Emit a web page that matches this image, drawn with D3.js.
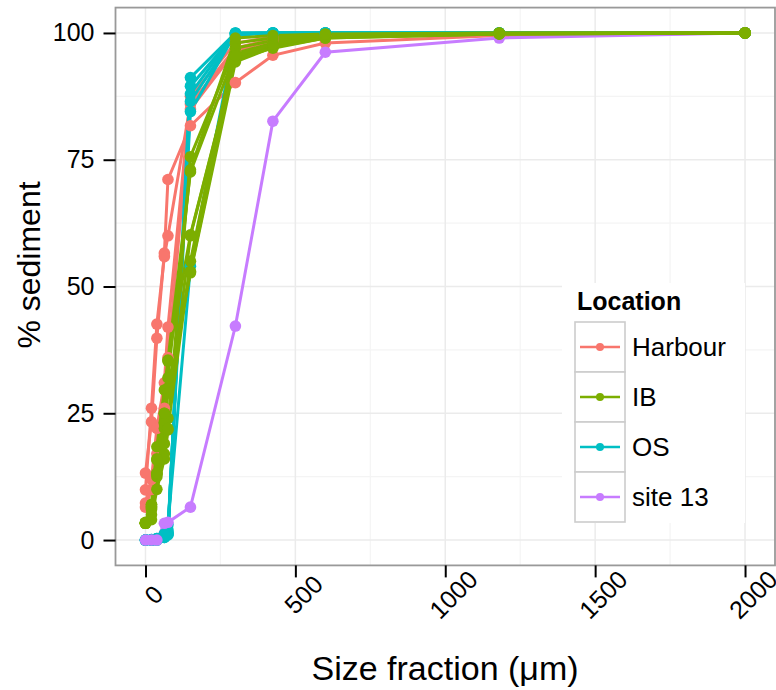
<!DOCTYPE html>
<html>
<head>
<meta charset="utf-8">
<script src="https://cdnjs.cloudflare.com/ajax/libs/d3/7.8.5/d3.min.js"></script>
<style>
  body { margin: 0; background: #fff; }
  text { font-family: "Liberation Sans", Arial, sans-serif; }
</style>
</head>
<body>
<div id="chart"></div>
<script>
// Sieve sizes (um) shared by all samples
var sizes = [0, 20, 38, 63, 75, 150, 300, 425, 600, 1180, 2000];

// Cumulative % sediment, one array per sample
var harbour = [
  [13.2, 23.3, 39.8, 56.6, 71.1, 81.7, 90.2, 95.6, 98.0, 99.5, 100],
  [9.9, 26.0, 42.6, 55.9, 60.0, 86.0, 97.0, 98.8, 99.5, 99.8, 100],
  [7.3, 12.0, 22.0, 31.0, 42.0, 87.5, 98.0, 99.2, 99.6, 99.9, 100],
  [6.5, 10.0, 17.0, 26.0, 36.0, 85.0, 96.5, 98.5, 99.3, 99.8, 100]
];
var ib = [
  [3.3, 6.3, 13.0, 22.0, 30.0, 52.7, 94.3, 97.2, 99.0, 99.8, 100],
  [3.3, 6.5, 15.8, 25.0, 35.3, 60.2, 95.0, 97.5, 99.2, 99.8, 100],
  [3.5, 7.0, 18.4, 29.6, 35.5, 72.6, 96.0, 98.0, 99.4, 99.9, 100],
  [3.3, 5.0, 12.5, 17.0, 21.7, 75.6, 97.0, 98.5, 99.5, 99.9, 100],
  [3.3, 6.0, 13.0, 19.0, 24.0, 60.0, 94.8, 97.0, 99.0, 99.8, 100],
  [3.4, 6.6, 13.2, 23.0, 29.0, 53.0, 95.5, 97.8, 99.3, 99.9, 100],
  [3.3, 4.0, 10.0, 16.0, 22.0, 55.0, 98.0, 99.0, 99.6, 100, 100],
  [3.3, 7.0, 16.0, 25.0, 32.0, 73.0, 99.0, 99.5, 99.8, 100, 100]
];
var os = [
  [0, 0, 0, 0.5, 1.0, 91.2, 100, 100, 100, 100, 100],
  [0, 0, 0, 0.5, 1.2, 89.5, 99.9, 100, 100, 100, 100],
  [0, 0, 0.2, 0.8, 1.5, 88.0, 100, 100, 100, 100, 100],
  [0, 0.1, 0.3, 1.0, 2.0, 86.5, 99.8, 100, 100, 100, 100],
  [0, 0, 0.2, 0.8, 1.3, 84.5, 99.9, 100, 100, 100, 100],
  [0, 0.1, 0.3, 1.2, 3.0, 54.0, 99.5, 100, 100, 100, 100]
];
var site13 = [
  [0, 0, 0, 3.3, 3.5, 6.5, 42.2, 82.6, 96.2, 99.0, 100]
];

var locations = ["Harbour", "IB", "OS", "site 13"];
var locationColors = ["#F8766D", "#7CAE00", "#00BFC4", "#C77CFF"];
var xTicks = [0, 500, 1000, 1500, 2000];
var yTicks = [0, 25, 50, 75, 100];

// Define SVG area dimensions
var svgWidth = 776;
var svgHeight = 690;

var chartMargin = { top: 7.6, right: 1, bottom: 124.6, left: 115.5 };
var chartWidth = svgWidth - chartMargin.left - chartMargin.right;
var chartHeight = svgHeight - chartMargin.top - chartMargin.bottom;

var svg = d3.select("#chart")
  .append("svg")
  .attr("width", svgWidth)
  .attr("height", svgHeight);

var chartGroup = svg.append("g")
  .attr("transform", `translate(${chartMargin.left}, ${chartMargin.top})`);

var xScale = d3.scaleLinear().domain([-100, 2100]).range([0, chartWidth]);
var yScale = d3.scaleLinear().domain([-5, 105]).range([chartHeight, 0]);
var colorScale = d3.scaleOrdinal().domain(locations).range(locationColors);

// gridlines (minor then major)
var xMinor = [250, 750, 1250, 1750];
var yMinor = [12.5, 37.5, 62.5, 87.5];
chartGroup.selectAll(".xminor").data(xMinor).enter().append("line")
  .attr("x1", d => xScale(d)).attr("x2", d => xScale(d))
  .attr("y1", 0).attr("y2", chartHeight)
  .attr("stroke", "#F4F4F4").attr("stroke-width", 1.2);
chartGroup.selectAll(".yminor").data(yMinor).enter().append("line")
  .attr("y1", d => yScale(d)).attr("y2", d => yScale(d))
  .attr("x1", 0).attr("x2", chartWidth)
  .attr("stroke", "#F4F4F4").attr("stroke-width", 1.2);
chartGroup.selectAll(".xmajor").data(xTicks).enter().append("line")
  .attr("x1", d => xScale(d)).attr("x2", d => xScale(d))
  .attr("y1", 0).attr("y2", chartHeight)
  .attr("stroke", "#EBEBEB").attr("stroke-width", 1.5);
chartGroup.selectAll(".ymajor").data(yTicks).enter().append("line")
  .attr("y1", d => yScale(d)).attr("y2", d => yScale(d))
  .attr("x1", 0).attr("x2", chartWidth)
  .attr("stroke", "#EBEBEB").attr("stroke-width", 1.5);

// build samples; IB drawn last so it sits on top
var samples = [];
function addSamples(list, loc) {
  list.forEach(function(vals) {
    samples.push({ loc: loc, pts: sizes.map((s, i) => ({ x: s, y: vals[i] })) });
  });
}
addSamples(harbour, "Harbour");
addSamples(os, "OS");
addSamples(site13, "site 13");
addSamples(ib, "IB");

var line = d3.line().x(d => xScale(d.x)).y(d => yScale(d.y));

chartGroup.selectAll(".sample")
  .data(samples)
  .enter()
  .append("path")
  .attr("d", d => line(d.pts))
  .attr("fill", "none")
  .attr("stroke", d => colorScale(d.loc))
  .attr("stroke-width", 3);

samples.forEach(function(s) {
  chartGroup.selectAll(null)
    .data(s.pts)
    .enter()
    .append("circle")
    .attr("cx", d => xScale(d.x))
    .attr("cy", d => yScale(d.y))
    .attr("r", 5.8)
    .attr("fill", colorScale(s.loc));
});

// panel border
chartGroup.append("rect")
  .attr("width", chartWidth).attr("height", chartHeight)
  .attr("fill", "none").attr("stroke", "#999").attr("stroke-width", 1.8);

// axes
var xAxis = d3.axisBottom(xScale).tickValues(xTicks).tickSize(12).tickFormat("");
var yAxis = d3.axisLeft(yScale).tickValues(yTicks).tickSize(12).tickPadding(9);

var xg = chartGroup.append("g")
  .attr("transform", `translate(0, ${chartHeight})`)
  .call(xAxis);
var yg = chartGroup.append("g").call(yAxis);

[xg, yg].forEach(function(g) {
  g.select(".domain").remove();
  g.selectAll(".tick line").attr("stroke", "#000").attr("stroke-width", 2);
});
yg.selectAll(".tick text")
  .attr("font-size", 25).attr("fill", "#000")
  .attr("font-family", "Liberation Sans, Arial, sans-serif");

// rotated x tick labels
chartGroup.selectAll(".xlab")
  .data(xTicks)
  .enter()
  .append("text")
  .attr("transform", d => `translate(${xScale(d) + 8}, ${chartHeight + 29}) rotate(-45)`)
  .attr("text-anchor", "middle")
  .attr("dominant-baseline", "central")
  .attr("font-size", 25)
  .text(d => d);

// axis titles
svg.append("text")
  .attr("x", 445)
  .attr("y", 680)
  .attr("text-anchor", "middle")
  .attr("font-size", 34)
  .text("Size fraction (\u03bcm)");

svg.append("text")
  .attr("transform", "translate(40, 265) rotate(-90)")
  .attr("text-anchor", "middle")
  .attr("font-size", 32)
  .text("% sediment");

// legend
var legend = svg.append("g");
legend.append("rect")
  .attr("x", 562).attr("y", 283).attr("width", 183).attr("height", 240)
  .attr("fill", "#fff");
legend.append("text")
  .attr("x", 577).attr("y", 310)
  .attr("font-size", 25).attr("font-weight", "bold")
  .text("Location");

var keys = legend.selectAll(".key")
  .data(locations)
  .enter()
  .append("g")
  .attr("transform", (d, i) => `translate(575, ${322 + i * 50})`);
keys.append("rect")
  .attr("width", 50).attr("height", 50)
  .attr("fill", "#fff").attr("stroke", "#CCCCCC").attr("stroke-width", 1.6);
keys.append("line")
  .attr("x1", 5).attr("x2", 45).attr("y1", 25).attr("y2", 25)
  .attr("stroke", d => colorScale(d)).attr("stroke-width", 2.4);
keys.append("circle")
  .attr("cx", 25).attr("cy", 25).attr("r", 4)
  .attr("fill", d => colorScale(d));
keys.append("text")
  .attr("x", 57).attr("y", 25)
  .attr("dominant-baseline", "central")
  .attr("font-size", 26)
  .text(d => d);
</script>
</body>
</html>
